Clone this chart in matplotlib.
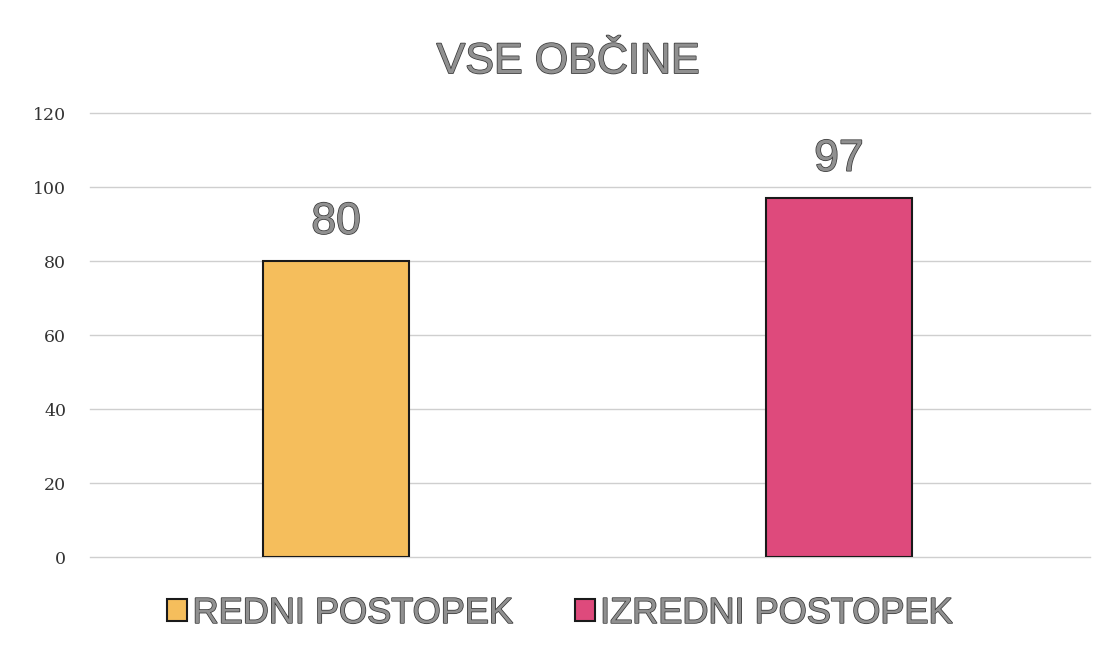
import numpy as np
import matplotlib.pyplot as plt
import matplotlib.patheffects as pe

categories = ["REDNI POSTOPEK", "IZREDNI POSTOPEK"]
values = [80, 97]
colors = ["#F5BE5C", "#DE4A7C"]
yticks = [0, 20, 40, 60, 80, 100, 120]

outline = [pe.withStroke(linewidth=1.1, foreground="#3a3a3a")]
txt_col = "#909090"

fig = plt.figure(figsize=(11.07, 6.54), dpi=100)
ax = fig.add_axes([0.081, 0.148, 0.904, 0.679])

x = np.arange(len(categories))
bars = ax.bar(x, values, width=0.29, color=colors, edgecolor="#1a1a1a",
              linewidth=1.5, zorder=3, label=categories)

for b, v in zip(bars, values):
    ax.text(b.get_x() + b.get_width() / 2, v + 5, str(v), ha="center", va="bottom",
            fontsize=32, family="Liberation Sans", color=txt_col,
            path_effects=outline)

ax.set_xlim(-0.49, 1.5)
ax.set_ylim(0, 120)
ax.set_yticks(yticks)
ax.set_yticklabels([str(t) for t in yticks], family="DejaVu Serif",
                   fontsize=12.5, color="#333333")
ax.set_xticks([])
ax.tick_params(axis="y", length=0, pad=17)
ax.grid(axis="y", color="#cfcfcf", linewidth=1, zorder=0)
for gl in ax.get_ygridlines():
    gl.set_clip_on(False)
for s in ax.spines.values():
    s.set_visible(False)

fig.text(0.513, 0.905, "VSE OBČINE", ha="center", va="center", fontsize=31,
         family="Liberation Sans", color=txt_col, path_effects=outline)

leg = fig.legend(handles=list(bars), labels=categories, loc="center",
                 bbox_to_anchor=(0.506, 0.062), ncol=2, frameon=False,
                 handlelength=0.55, handleheight=0.55, handletextpad=0.15,
                 columnspacing=1.7,
                 prop={"family": "Liberation Sans", "size": 26})
for t in leg.get_texts():
    t.set_color(txt_col)
    t.set_path_effects(outline)

fig.savefig("out.png", dpi=100)
